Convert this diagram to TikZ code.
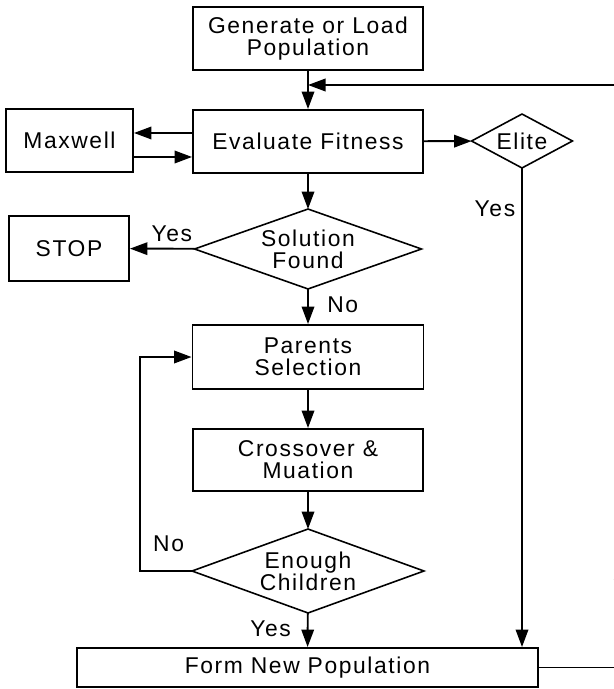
\documentclass[tikz,border=0pt]{standalone}
\usepackage{fontspec}
\setmainfont{Liberation Sans}[LetterSpace=7]
\usetikzlibrary{arrows.meta}

\begin{document}
\begin{tikzpicture}[
  font=\fontsize{13}{12.5}\selectfont,
  >={Triangle[length=3.5mm,width=2.5mm]},
  line width=1.1pt,
  stepbox/.style={draw, line width=1.1pt, align=center, inner sep=0pt},
  choice/.style={align=center, inner sep=0pt},
  choiceline/.style={line width=0.9pt},
]
\useasboundingbox (0,0) rectangle (12.28,-13.78);
% draw main column
\node[stepbox, minimum width=4.6cm, minimum height=1.26cm] (gen) at (6.16,-0.77) {Generate or Load\\Population};
\node[stepbox, minimum width=4.6cm, minimum height=1.26cm] (eval) at (6.16,-2.83) {Evaluate Fitness};
\node[choice, minimum width=4.5cm, minimum height=1.56cm] (sol) at (6.16,-4.98) {Solution\\Found};
\node[stepbox, minimum width=4.62cm, minimum height=1.28cm] (par) at (6.16,-7.14) {Parents\\Selection};
\node[stepbox, minimum width=4.6cm, minimum height=1.24cm] (cross) at (6.16,-9.2) {Crossover \&\\Muation};
\node[choice, minimum width=4.6cm, minimum height=1.64cm] (enough) at (6.16,-11.42) {Enough\\Children};
\node[stepbox, minimum width=9.22cm, minimum height=0.78cm] (form) at (6.15,-13.35) {Form New Population};
% draw side boxes
\node[stepbox, minimum width=2.54cm, minimum height=1.26cm] (maxwell) at (1.39,-2.81) {Maxwell};
\node[stepbox, minimum width=2.4cm, minimum height=1.3cm] (stop) at (1.38,-4.97) {STOP};
\node[choice, minimum width=1.98cm, minimum height=1.04cm] (elite) at (10.44,-2.82) {Elite};
\node[anchor=west] (cut) at (12.14,-11.45) {A};
% draw diamonds
\draw[choiceline] (sol.west) -- (sol.north) -- (sol.east) -- (sol.south) -- cycle;
\draw[choiceline] (enough.west) -- (enough.north) -- (enough.east) -- (enough.south) -- cycle;
\draw[choiceline] (elite.west) -- (elite.north) -- (elite.east) -- (elite.south) -- cycle;
% draw edge points
\coordinate (back) at (12.4,-1.7);
\coordinate (out) at (12.4,-13.35);
\coordinate (loop) at (2.8,-11.42);
% draw arrows
\draw[->] (gen) -- (eval);
\draw[->] (back) -- (back -| gen.south);
\draw[->] ([yshift=0.17cm]eval.west) -- ([yshift=0.17cm]eval.west -| maxwell.east);
\draw[->] ([yshift=-0.31cm]eval.west -| maxwell.east) -- ([yshift=-0.31cm]eval.west);
\draw[->] (eval) -- (elite);
\draw[->] (elite.south) -- node[pos=0.085, left] {Yes} (elite.south |- form.north);
\draw[->] (eval) -- (sol);
\draw[->] (sol) -- node[above, pos=0.35] {Yes} (stop);
\draw[->] (sol) -- node[right=0.25cm, pos=0.45] {No} (par);
\draw[->] (par) -- (cross);
\draw[->] (cross) -- (enough);
\draw[->] (enough.west) -- node[above=0.25cm, pos=0.45] {No} (loop) |- (par.west);
\draw[->] (enough) -- node[left=0.2cm, pos=0.45] {Yes} (form);
\draw (form.east) -- (out);
\end{tikzpicture}
\end{document}
